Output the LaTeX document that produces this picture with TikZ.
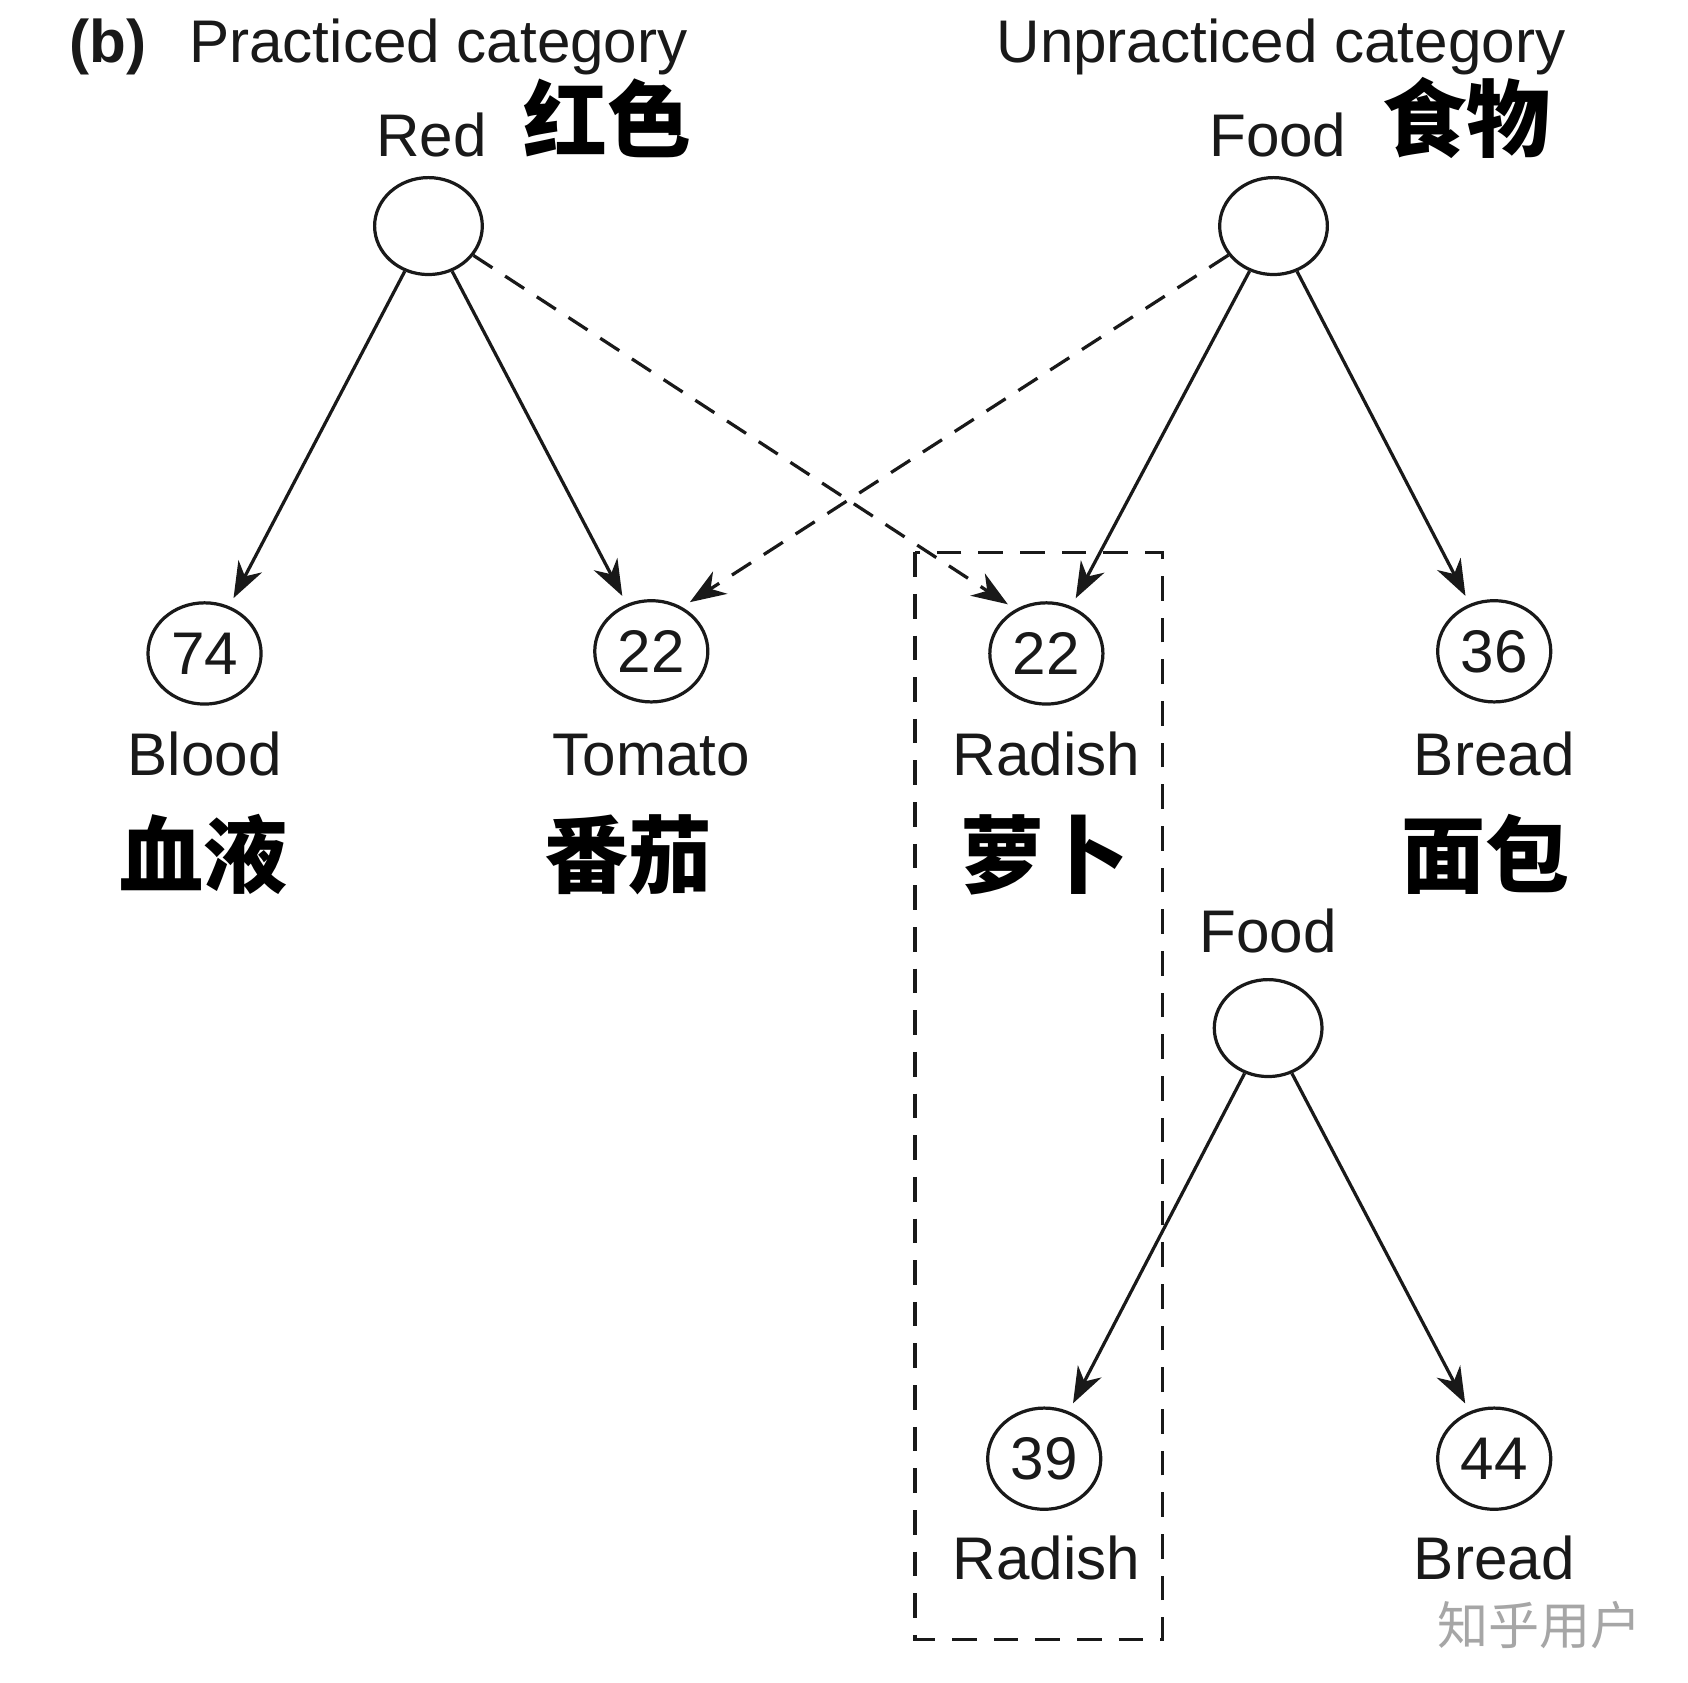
\documentclass[tikz,border=0pt]{standalone}
\usepackage{fontspec}
\setmainfont{Liberation Sans}
\newfontfamily\cjk{Noto Sans CJK SC}
\usetikzlibrary{arrows.meta,shapes.geometric}
\begin{document}
\begin{tikzpicture}[x=0.01cm,y=-0.01cm,
  lbl/.style={font=\fontsize{15.9}{19}\selectfont, text=black!90, inner sep=0, anchor=base},
  zh/.style={font=\cjk\bfseries\fontsize{22.2}{26}\selectfont, text=black, inner sep=0, anchor=center},
  root/.style={draw=black!90, ellipse, minimum width=1.0cm, minimum height=0.9cm, inner sep=0, line width=0.85pt},
  leaf/.style={draw=black!90, ellipse, minimum width=1.05cm, minimum height=0.94cm, inner sep=0, line width=0.85pt,
    font=\fontsize{15.9}{19}\selectfont, text=black!90},
  arr/.style={draw=black!90, -{Stealth[length=9.5pt,width=7pt,inset=3pt]}, line width=0.85pt, shorten >=2.4pt},
  darr/.style={arr, dash pattern=on 6pt off 4pt},
  box/.style={draw=black!90, line width=0.85pt, dash pattern=on 6.5pt off 4.5pt}
]
\fill[white] (0,0) rectangle (1568,1563);
\useasboundingbox (0,0) rectangle (1568,1563);

% headings
\node[lbl, anchor=base west, font=\bfseries\fontsize{15.9}{19}\selectfont] (b) at (64,58) {(b)};
\node[lbl, anchor=base west] (prac) at (175,58) {Practiced category};
\node[lbl, anchor=base west] (unprac) at (925,58) {Unpracticed category};

% top labels
\node[lbl] (redlbl) at (401,145) {Red};
\node[zh] (redzh) at (564,110) {红色};
\node[lbl] (foodlbl) at (1187,145) {Food};
\node[zh] (foodzh) at (1362,110) {食物};

% roots
\node[root] (red) at (398,210) {};
\node[root] (food) at (1183,210) {};

% leaves
\node[leaf] (blood) at (190,607) {74};
\node[leaf] (tomato) at (605,605) {22};
\node[leaf] (radish) at (972,607) {22};
\node[leaf] (bread) at (1388,605) {36};

\node[lbl] (bloodlbl) at (190,720) {Blood};
\node[lbl] (tomatolbl) at (605,720) {Tomato};
\node[lbl] (radishlbl) at (972,720) {Radish};
\node[lbl] (breadlbl) at (1388,720) {Bread};

\node[zh] (bloodzh) at (189,794) {血液};
\node[zh] (tomatozh) at (584,794) {番茄};
\node[zh] (radishzh) at (970,794) {萝卜};
\node[zh] (breadzh) at (1380,794) {面包};

% second tree
\node[lbl] (food2lbl) at (1178,885) {Food};
\node[root] (food2) at (1178,955) {};
\node[leaf] (radish2) at (970,1355) {39};
\node[leaf] (bread2) at (1388,1355) {44};
\node[lbl] (radish2lbl) at (972,1467) {Radish};
\node[lbl] (bread2lbl) at (1388,1467) {Bread};

% connectors
\draw[arr] (red) -- (blood);
\draw[arr] (red) -- (tomato);
\draw[darr] (red) -- (radish.125);
\draw[darr] (food) -- (tomato.55);
\draw[arr] (food) -- (radish);
\draw[arr] (food) -- (bread);
\draw[arr] (food2) -- (radish2);
\draw[arr] (food2) -- (bread2);

% dashed box
\draw[box] (850,513) rectangle (1080,1523);

% watermark
\node[font=\cjk\fontsize{13.5}{16}\selectfont, text=black!35, inner sep=0] (wm) at (1430,1510) {知乎用户};
\end{tikzpicture}
\end{document}
